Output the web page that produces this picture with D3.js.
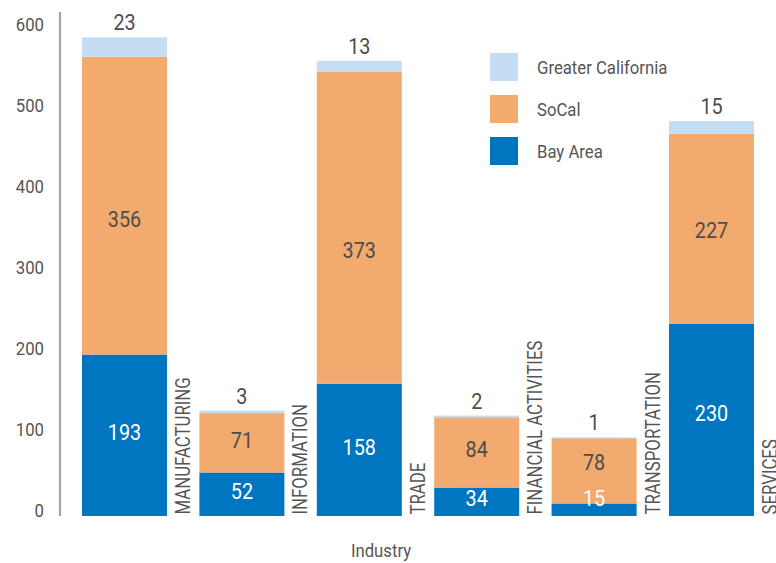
<!DOCTYPE html>
<html><head><meta charset="utf-8">
<script src="https://cdn.jsdelivr.net/npm/d3@7"></script>
<style>
body{margin:0;background:#fff;}
svg text{font-family:Roboto,"Open Sans",sans-serif;}
</style></head>
<body><svg id="c" width="776" height="563"></svg>
<script>
const categories = ["MANUFACTURING","INFORMATION","TRADE","FINANCIAL ACTIVITIES","TRANSPORTATION","SERVICES"];
const bayArea = [193,52,158,34,15,230];
const soCal = [356,71,373,84,78,227];
const greaterCA = [23,3,13,2,1,15];
const seriesNames = ["Bay Area","SoCal","Greater California"];
const yTicks = [0,100,200,300,400,500,600];
const axisTitle = "Industry";

const colors = {"Bay Area":"#0075c0","SoCal":"#f2aa6e","Greater California":"#c5ddf2"};
const textColor = "#555555";
const CX_DIGIT = 0.88, CX_CAPS = 0.8, CX_TEXT = 0.88;
// small manual label placement tweaks (pixels), as in the original layout
const innerLabelShift = -3;
const labelNudges = {"SoCal|MANUFACTURING":16,"SoCal|TRADE":25,"SoCal|TRANSPORTATION":-6,"Bay Area|SERVICES":-4,"SoCal|SERVICES":4};

const svg = d3.select("#c");
const rows = categories.map((c,i)=>({cat:c,"Bay Area":bayArea[i],"SoCal":soCal[i],"Greater California":greaterCA[i]}));
const stacked = d3.stack().keys(seriesNames)(rows);

const x = d3.scaleBand().domain(categories).range([82,754]).paddingInner(0.276).paddingOuter(0);
const y = d3.scaleLinear().domain([0,600]).range([516,14]);
const yLab = d3.scaleLinear().domain([0,600]).range([510,24]);

// axis line
svg.append("line").attr("x1",60).attr("x2",60).attr("y1",12).attr("y2",y(0))
  .attr("stroke","#a6a6a6").attr("stroke-width",2.2);
// tick labels
svg.selectAll(".yt").data(yTicks).join("text")
  .attr("transform",d=>`translate(44,${yLab(d)}) scale(${CX_DIGIT},1)`)
  .attr("text-anchor","end").attr("dominant-baseline","central")
  .attr("font-size",19).attr("fill",textColor).text(d=>d);

// bars
const g = svg.append("g");
stacked.forEach(s=>{
  g.selectAll(null).data(s).join("rect")
    .attr("x",d=>x(d.data.cat)).attr("width",x.bandwidth())
    .attr("y",d=>y(d[1])).attr("height",d=>y(d[0])-y(d[1]))
    .attr("fill",colors[s.key]);
});
// inner labels
stacked.slice(0,2).forEach(s=>{
  g.selectAll(null).data(s).join("text")
    .attr("transform",d=>{
      const cy = Math.min((y(d[0])+y(d[1]))/2, y(0)-15) + innerLabelShift + (labelNudges[s.key+"|"+d.data.cat]||0);
      return `translate(${x(d.data.cat)+x.bandwidth()/2},${cy}) scale(${CX_DIGIT},1)`;})
    .attr("text-anchor","middle").attr("dominant-baseline","central")
    .attr("font-size",22.5).attr("fill",s.key==="Bay Area"?"#ffffff":"#4d4d4d")
    .text(d=>d[1]-d[0]);
});
// top labels
const topSeries = stacked[2];
g.selectAll(null).data(topSeries).join("text")
  .attr("transform",d=>`translate(${x(d.data.cat)+x.bandwidth()/2},${y(d[1])-15}) scale(${CX_DIGIT},1)`)
  .attr("text-anchor","middle").attr("dominant-baseline","central")
  .attr("font-size",22.5).attr("fill","#4d4d4d").text(d=>d[1]-d[0]);

// category labels
svg.selectAll(".cl").data(categories).join("text")
  .attr("transform",d=>`translate(${x(d)+x.bandwidth()+23},${y(0)-1.5}) rotate(-90) scale(${CX_CAPS},1)`)
  .attr("text-anchor","start")
  .attr("font-size",21).attr("fill",textColor).text(d=>d);

// axis title
svg.append("text").attr("transform",`translate(381,550) scale(${CX_TEXT},1)`)
  .attr("text-anchor","middle").attr("dominant-baseline","central")
  .attr("font-size",19).attr("fill",textColor).text(axisTitle);

// legend
const legendOrder = ["Greater California","SoCal","Bay Area"];
const lg = svg.append("g").attr("transform","translate(490,53)");
legendOrder.forEach((k,i)=>{
  lg.append("rect").attr("x",0).attr("y",i*42).attr("width",28).attr("height",28).attr("fill",colors[k]);
  lg.append("text").attr("transform",`translate(47,${i*42+14}) scale(${CX_TEXT},1)`)
    .attr("dominant-baseline","central").attr("font-size",19).attr("fill",textColor).text(k);
});
</script></body></html>
